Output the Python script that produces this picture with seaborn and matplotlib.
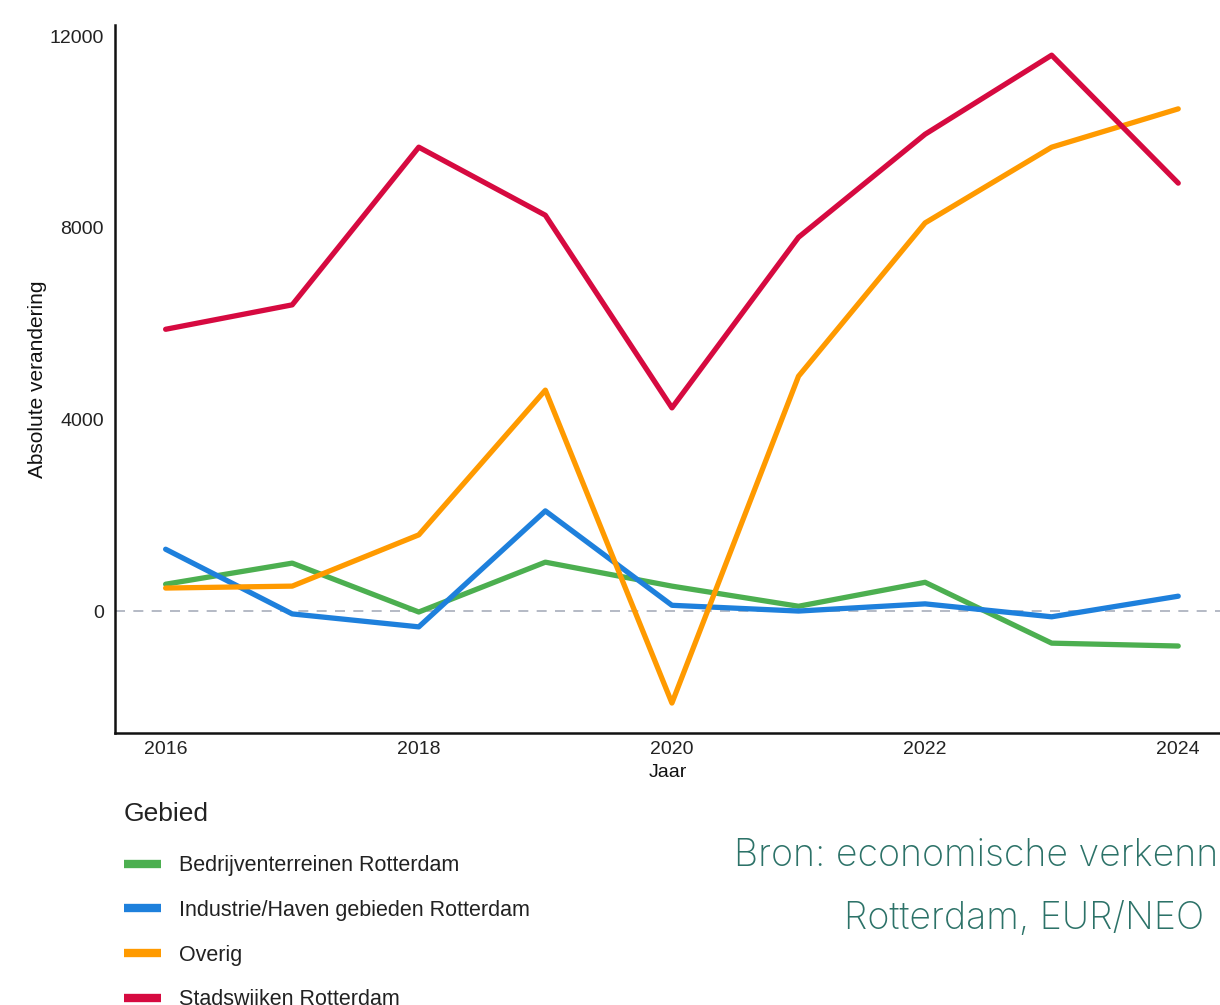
import matplotlib
matplotlib.use("Agg")
import matplotlib.pyplot as plt
import seaborn as sns
import pandas as pd
from matplotlib.lines import Line2D

years = [2016, 2017, 2018, 2019, 2020, 2021, 2022, 2023, 2024]
bedrijventerreinen = [560, 1000, -20, 1020, 520, 100, 600, -670, -730]
industrie_haven = [1290, -60, -330, 2090, 120, 0, 150, -120, 310]
overig = [480, 520, 1590, 4610, -1920, 4900, 8100, 9680, 10480]
stadswijken = [5880, 6390, 9680, 8260, 4240, 7800, 9950, 11600, 8930]

series_names = [
    "Bedrijventerreinen Rotterdam",
    "Industrie/Haven gebieden Rotterdam",
    "Overig",
    "Stadswijken Rotterdam",
]
colors = ["#4CAF50", "#1E80DC", "#FF9A00", "#D60A40"]
x_ticks = [2016, 2018, 2020, 2022, 2024]
y_ticks = [0, 4000, 8000, 12000]
source_lines = ["Bron: economische verkenning", "Rotterdam, EUR/NEO"]

rows = []
for name, vals in zip(series_names, [bedrijventerreinen, industrie_haven, overig, stadswijken]):
    for yr, v in zip(years, vals):
        rows.append({"Jaar": yr, "Absolute verandering": v, "Gebied": name})
df = pd.DataFrame(rows)

sns.set_theme(style="white")
plt.rcParams["font.family"] = ["Liberation Sans", "DejaVu Sans"]

fig = plt.figure(figsize=(12.2, 10.05), dpi=100)
ax = fig.add_axes([115 / 1220, 1 - 733 / 1005, 1 - 115 / 1220, (733 - 25) / 1005])

ax.axhline(0, color="#A8AEBB", lw=1.2, ls=(0, (6, 5)), zorder=1)
sns.lineplot(data=df, x="Jaar", y="Absolute verandering", hue="Gebied",
             hue_order=series_names, palette=colors, lw=3.8, ax=ax, legend=False,
             zorder=3)

ax.set_xlim(2015.6, 2024.33)
ax.set_ylim(-2545, 12230)
ax.set_xticks(x_ticks)
ax.set_yticks(y_ticks)
ax.set_xticklabels([str(t) for t in x_ticks])
ax.set_yticklabels([str(t) for t in y_ticks])
ax.tick_params(axis="both", length=0, labelsize=14, colors="#222222")
ax.tick_params(axis="y", pad=8)
ax.tick_params(axis="x", pad=6)
ax.set_xlabel("Jaar", fontsize=14, labelpad=4, color="#111111")
ax.set_ylabel("Absolute verandering", fontsize=15, labelpad=2, color="#111111")
for s in ["top", "right"]:
    ax.spines[s].set_visible(False)
for s in ["left", "bottom"]:
    ax.spines[s].set_color("#111111")
    ax.spines[s].set_linewidth(1.8)
ax.grid(False)

handles = [Line2D([0], [0], color=c, lw=6, solid_capstyle="butt") for c in colors]
leg = fig.legend(handles, series_names, title="Gebied", loc="upper left",
                 bbox_to_anchor=(124 / 1220, 1 - 802 / 1005), frameon=False,
                 fontsize=15.5, title_fontsize=19, handlelength=1.7,
                 handletextpad=0.85, labelspacing=1.1, borderpad=0,
                 borderaxespad=0, alignment="left")
for t in leg.get_texts():
    t.set_color("#222222")
leg.get_title().set_color("#222222")
leg._legend_box.sep = 21

src_font = dict(fontsize=27, family=["Inter", "DejaVu Sans"], fontweight="light",
                color="#2C7268", va="baseline")
fig.text(734 / 1220, 1 - 866 / 1005, source_lines[0], ha="left", **src_font)
fig.text(1024 / 1220, 1 - 929 / 1005, source_lines[1], ha="center", **src_font)

fig.savefig("out.png", dpi=100, facecolor="white")
